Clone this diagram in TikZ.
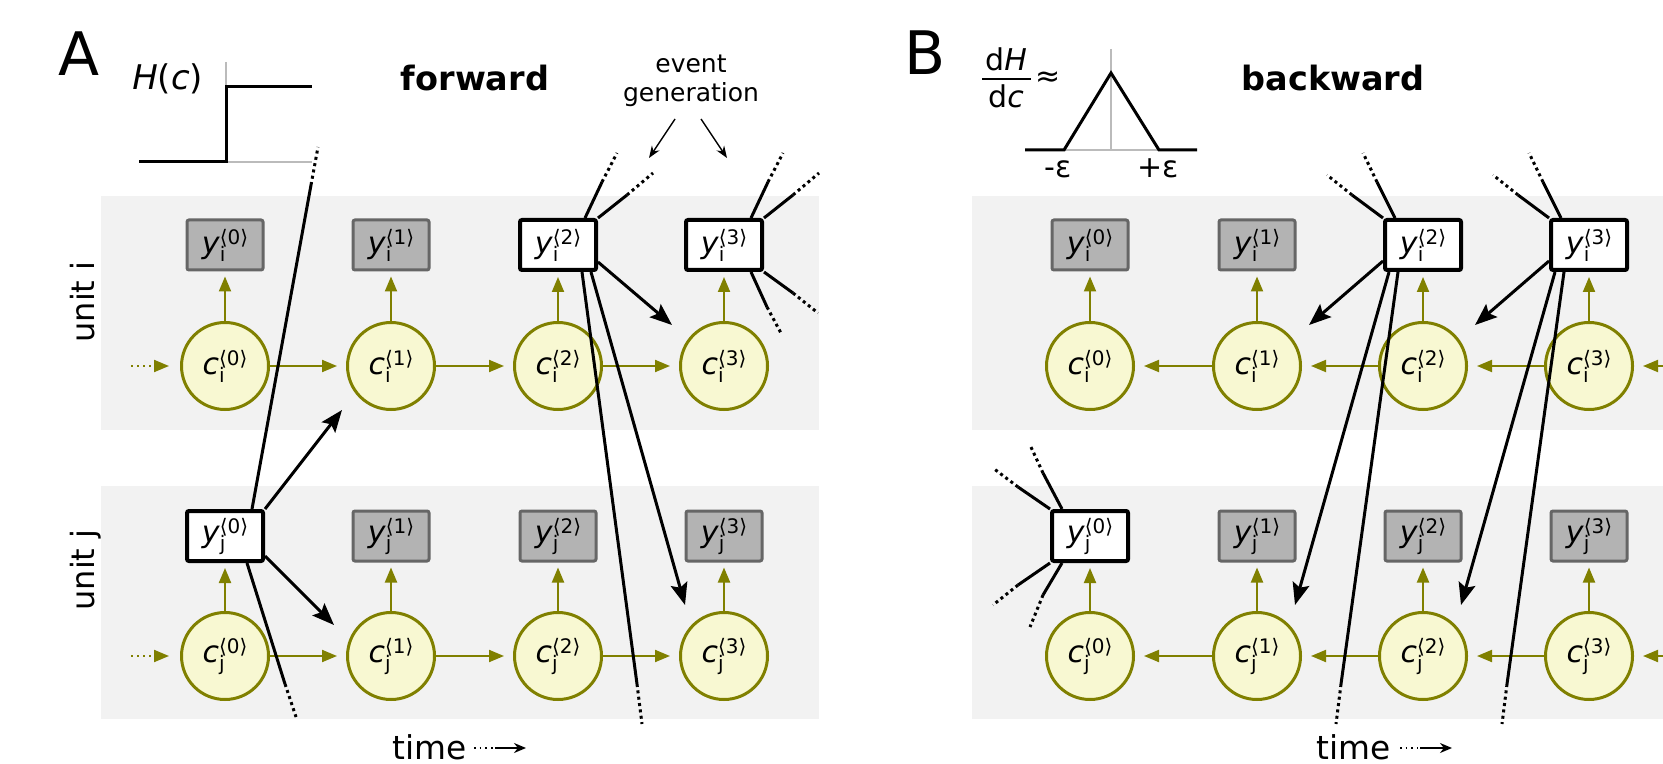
\documentclass[tikz,border=0pt]{standalone}
\usepackage{fontspec}
\setmainfont{DejaVu Sans}
\usetikzlibrary{arrows.meta,calc}
\definecolor{olv}{HTML}{808000}
\definecolor{cfill}{HTML}{F8F8D2}
\definecolor{band}{HTML}{F2F2F2}
\definecolor{gbox}{HTML}{B3B3B3}
\definecolor{gborder}{HTML}{666666}
\definecolor{lgray}{HTML}{BBBBBB}
\newcommand{\fsz}[1]{\fontsize{#1}{#1}\selectfont}
\newcommand{\lbl}[3]{\textit{#1}\makebox[0pt][l]{\raisebox{-4pt}{\fsz{10}#2}}\raisebox{4.5pt}{\fsz{10}⟨#3⟩}}
\begin{document}
\begin{tikzpicture}[x=0.5pt,y=-0.5pt,
  cnode/.style={circle, draw=olv, fill=cfill, line width=1.5pt, minimum size=43.5pt, inner sep=0pt, font=\fsz{15}},
  ygray/.style={rectangle, rounded corners=1pt, draw=gborder, fill=gbox, line width=1.5pt, minimum width=38pt, minimum height=25pt, inner sep=0pt, font=\fsz{15}},
  ywhite/.style={rectangle, rounded corners=1pt, draw=black, fill=white, line width=2pt, minimum width=38pt, minimum height=25pt, inner sep=0pt, font=\fsz{15}},
  oarr/.style={draw=olv, line width=1pt, -{Triangle[length=7.5pt,width=6pt]}},
  conn/.style={draw=black, line width=1.5pt},
  carr/.style={conn, -{Stealth[length=11pt,width=8.5pt,inset=2pt]}},
  dots/.style={conn, dash pattern=on 1.5pt off 1.7pt},
  tarr/.style={draw=black, line width=0.85pt, -{Stealth[length=6pt,width=5pt]}},
  txt/.style={inner sep=0pt},
]
\useasboundingbox (0,0) rectangle (1663,764);
\clip (0,0) rectangle (1663,764);
% bands
\fill[band] (101,196) rectangle (819,430);
\fill[band] (101,486) rectangle (819,719);
\fill[band] (972,196) rectangle (1663,430);
\fill[band] (972,486) rectangle (1663,719);

% panel letters and titles
\node[txt, anchor=base west, font=\fsz{30}] (labA) at (58,76) {A};
\node[txt, anchor=base west, font=\fsz{30}] (labB) at (904,75) {B};
\node[txt, anchor=base, font=\fsz{16.75}\bfseries] (fw) at (475,91) {forward};
\node[txt, anchor=base, font=\fsz{16.75}\bfseries] (bw) at (1333,91) {backward};
\node[txt, anchor=base, font=\fsz{12.5}] (ev1) at (691,73) {event};
\node[txt, anchor=base, font=\fsz{12.5}] (ev2) at (691,102) {generation};
\coordinate (ev1s) at (675,119); \coordinate (ev1e) at (649,158);
\coordinate (ev2s) at (701,119); \coordinate (ev2e) at (727,158);
\draw[draw=black, line width=0.7pt, -{Stealth[length=6pt,width=4.5pt]}] (ev1s) -- (ev1e);
\draw[draw=black, line width=0.7pt, -{Stealth[length=6pt,width=4.5pt]}] (ev2s) -- (ev2e);

% step function
\node[txt, anchor=base west, font=\fsz{17}] (hc) at (132,90) {\textit{H}(\textit{c})};
\draw[lgray, line width=1pt] (226,62) -- (226,162) -- (312,162);
\draw[black, line width=1.5pt] (139,162) -- (226,162) -- (226,87) -- (312,87);

% derivative
\node[txt, anchor=base, font=\fsz{15}] (dh) at (1006,71) {d\textit{H}};
\node[txt, anchor=base, font=\fsz{15}] (dc) at (1006,108) {d\textit{c}};
\coordinate (fb1) at (982,79); \coordinate (fb2) at (1031,79);
\draw[black, line width=1.3pt] (fb1) -- (fb2);
\node[txt, font=\fsz{15}] (approx) at (1048,79) {≈};
\draw[lgray, line width=1pt] (1111,49) -- (1111,150);
\draw[lgray, line width=1pt] (1064,150) -- (1159,150);
\draw[black, line width=1.5pt] (1025,150) -- (1064,150) -- (1111,73) -- (1159,150) -- (1197,150);
\node[txt, anchor=base, font=\fsz{15}] (me) at (1058,178) {-ε};
\node[txt, anchor=base, font=\fsz{15}] (pe) at (1158,178) {+ε};

% unit labels
\node[txt, rotate=90, anchor=base, font=\fsz{16}] (ui) at (94,302) {unit i};
\node[txt, rotate=90, anchor=base, font=\fsz{16}] (uj) at (94,570) {unit j};

% time labels
\node[txt, anchor=base west, font=\fsz{16.4}] (tA) at (392,759) {time};
\node[txt, anchor=base west, font=\fsz{16.4}] (tB) at (1316,759) {time};
\coordinate (tA1) at (474,748); \coordinate (tA2) at (493,748); \coordinate (tA3) at (495,748); \coordinate (tA4) at (526,748);
\coordinate (tB1) at (1400,748); \coordinate (tB2) at (1418,748); \coordinate (tB3) at (1420,748); \coordinate (tB4) at (1452,748);
\draw[black, line width=0.85pt, dash pattern=on 0.85pt off 2pt] (tA1) -- (tA2);
\draw[tarr] (tA3) -- (tA4);
\draw[black, line width=0.85pt, dash pattern=on 0.85pt off 2pt] (tB1) -- (tB2);
\draw[tarr] (tB3) -- (tB4);

% ===== nodes panel A =====
\foreach \k/\x in {0/225,1/391,2/558,3/724}{
  \node[cnode] (aci\k) at (\x,366) {\lbl{c}{i}{\k}};
  \node[cnode] (acj\k) at (\x,656) {\lbl{c}{j}{\k}};
}
\node[ygray] (ayi0) at (225,245) {\lbl{y}{i}{0}};
\node[ygray] (ayi1) at (391,245) {\lbl{y}{i}{1}};
\node[ywhite] (ayi2) at (558,245) {\lbl{y}{i}{2}};
\node[ywhite] (ayi3) at (724,245) {\lbl{y}{i}{3}};
\node[ywhite] (ayj0) at (225,536) {\lbl{y}{j}{0}};
\node[ygray] (ayj1) at (391,536) {\lbl{y}{j}{1}};
\node[ygray] (ayj2) at (558,536) {\lbl{y}{j}{2}};
\node[ygray] (ayj3) at (724,536) {\lbl{y}{j}{3}};

% ===== nodes panel B =====
\foreach \k/\x in {0/1090,1/1257,2/1423,3/1589}{
  \node[cnode] (bci\k) at (\x,366) {\lbl{c}{i}{\k}};
  \node[cnode] (bcj\k) at (\x,656) {\lbl{c}{j}{\k}};
}
\node[ygray] (byi0) at (1090,245) {\lbl{y}{i}{0}};
\node[ygray] (byi1) at (1257,245) {\lbl{y}{i}{1}};
\node[ywhite] (byi2) at (1423,245) {\lbl{y}{i}{2}};
\node[ywhite] (byi3) at (1589,245) {\lbl{y}{i}{3}};
\node[ywhite] (byj0) at (1090,536) {\lbl{y}{j}{0}};
\node[ygray] (byj1) at (1257,536) {\lbl{y}{j}{1}};
\node[ygray] (byj2) at (1423,536) {\lbl{y}{j}{2}};
\node[ygray] (byj3) at (1589,536) {\lbl{y}{j}{3}};

% ===== olive arrows =====
\foreach \r in {i,j}{
  \foreach \k in {0,1,2,3}{
    \draw[oarr, shorten >=2.5pt] (ac\r\k.north) -- (ay\r\k.south);
    \draw[oarr, shorten >=2.5pt] (bc\r\k.north) -- (by\r\k.south);
  }
  \draw[oarr, shorten >=4.5pt] (ac\r0.east) -- (ac\r1.west);
  \draw[oarr, shorten >=4.5pt] (ac\r1.east) -- (ac\r2.west);
  \draw[oarr, shorten >=4.5pt] (ac\r2.east) -- (ac\r3.west);
  \draw[oarr, shorten >=4.5pt] (bc\r1.west) -- (bc\r0.east);
  \draw[oarr, shorten >=4.5pt] (bc\r2.west) -- (bc\r1.east);
  \draw[oarr, shorten >=4.5pt] (bc\r3.west) -- (bc\r2.east);
}
\coordinate (ainI) at (131,366); \coordinate (ainJ) at (131,656);
\draw[oarr, dash pattern=on 1pt off 2pt, shorten >=5.5pt] (ainI) -- (aci0.west);
\draw[oarr, dash pattern=on 1pt off 2pt, shorten >=5.5pt] (ainJ) -- (acj0.west);
\coordinate (binI) at (1700,366); \coordinate (binJ) at (1700,656);
\draw[oarr, shorten >=4.5pt] (binI) -- (bci3.east);
\draw[oarr, shorten >=4.5pt] (binJ) -- (bcj3.east);

% ===== black connectors panel A =====
% y_j0
\coordinate (a1m) at (311,185); \coordinate (a1e) at (318,147);
\draw[conn] ($(ayj0.north)+(27,0)$) -- (a1m); \draw[dots] (a1m) -- (a1e);
\coordinate (a2m) at (285,684); \coordinate (a2e) at (296,717);
\draw[conn] ($(ayj0.south)+(22,0)$) -- (a2m); \draw[dots] (a2m) -- (a2e);
\draw[carr] (ayj0.north east) -- ($(aci1)+(-49,44)$);
\draw[carr] ($(ayj0.east)+(0,20)$) -- ($(acj1)+(-57,-31)$);
% y_i2
\coordinate (a3m) at (602,182); \coordinate (a3e) at (617,153);
\draw[conn] ($(ayi2.north)+(27,0)$) -- (a3m); \draw[dots] (a3m) -- (a3e);
\coordinate (a4m) at (627,195); \coordinate (a4e) at (653,173);
\draw[conn] (ayi2.north east) -- (a4m); \draw[dots] (a4m) -- (a4e);
\draw[carr] ($(ayi2.east)+(0,17)$) -- ($(aci3)+(-52,-41)$);
\coordinate (a5m) at (637,684); \coordinate (a5e) at (642,724);
\draw[conn] ($(ayi2.south)+(24,0)$) -- (a5m); \draw[dots] (a5m) -- (a5e);
\draw[carr] ($(ayi2.south)+(33,0)$) -- ($(acj3)+(-39,-51)$);
% y_i3
\coordinate (a6m) at (768,182); \coordinate (a6e) at (783,153);
\draw[conn] ($(ayi3.north)+(27,0)$) -- (a6m); \draw[dots] (a6m) -- (a6e);
\coordinate (a7m) at (793,195); \coordinate (a7e) at (819,173);
\draw[conn] (ayi3.north east) -- (a7m); \draw[dots] (a7m) -- (a7e);
\coordinate (a8m) at (767,307); \coordinate (a8e) at (782,335);
\draw[conn] ($(ayi3.south)+(27,0)$) -- (a8m); \draw[dots] (a8m) -- (a8e);
\coordinate (a9m) at (793,293); \coordinate (a9e) at (818,313);
\draw[conn] (ayi3.south east) -- (a9m); \draw[dots] (a9m) -- (a9e);

% ===== black connectors panel B =====
% y_i2 and y_i3
\foreach \s/\n/\m/\dx in {byi2/bci1/bcj1/0, byi3/bci2/bcj2/166}{
  \draw[conn] (\s.north west) -- ($(1352,195)+(\dx,0)$);
  \draw[dots] ($(1352,195)+(\dx,0)$) -- ($(1327,175)+(\dx,0)$);
  \draw[conn] ($(\s.north)+(-28,0)$) -- ($(1377,182)+(\dx,0)$);
  \draw[dots] ($(1377,182)+(\dx,0)$) -- ($(1363,153)+(\dx,0)$);
  \draw[carr] ($(\s.west)+(0,16)$) -- ($(\n)+(52,-41)$);
  \draw[carr] ($(\s.south)+(-34,0)$) -- ($(\m)+(38,-51)$);
  \draw[conn] ($(\s.south)+(-25,0)$) -- ($(1341,684)+(\dx,0)$);
  \draw[dots] ($(1341,684)+(\dx,0)$) -- ($(1336,724)+(\dx,0)$);
}
% y_j0
\coordinate (b1m) at (1018,487); \coordinate (b1e) at (993,468);
\draw[conn] (byj0.north west) -- (b1m); \draw[dots] (b1m) -- (b1e);
\coordinate (b2m) at (1043,473); \coordinate (b2e) at (1030,445);
\draw[conn] ($(byj0.north)+(-28,0)$) -- (b2m); \draw[dots] (b2m) -- (b2e);
\coordinate (b3m) at (1018,585); \coordinate (b3e) at (993,605);
\draw[conn] (byj0.south west) -- (b3m); \draw[dots] (b3m) -- (b3e);
\coordinate (b4m) at (1043,595); \coordinate (b4e) at (1030,627);
\draw[conn] ($(byj0.south)+(-28,0)$) -- (b4m); \draw[dots] (b4m) -- (b4e);
\end{tikzpicture}
\end{document}
